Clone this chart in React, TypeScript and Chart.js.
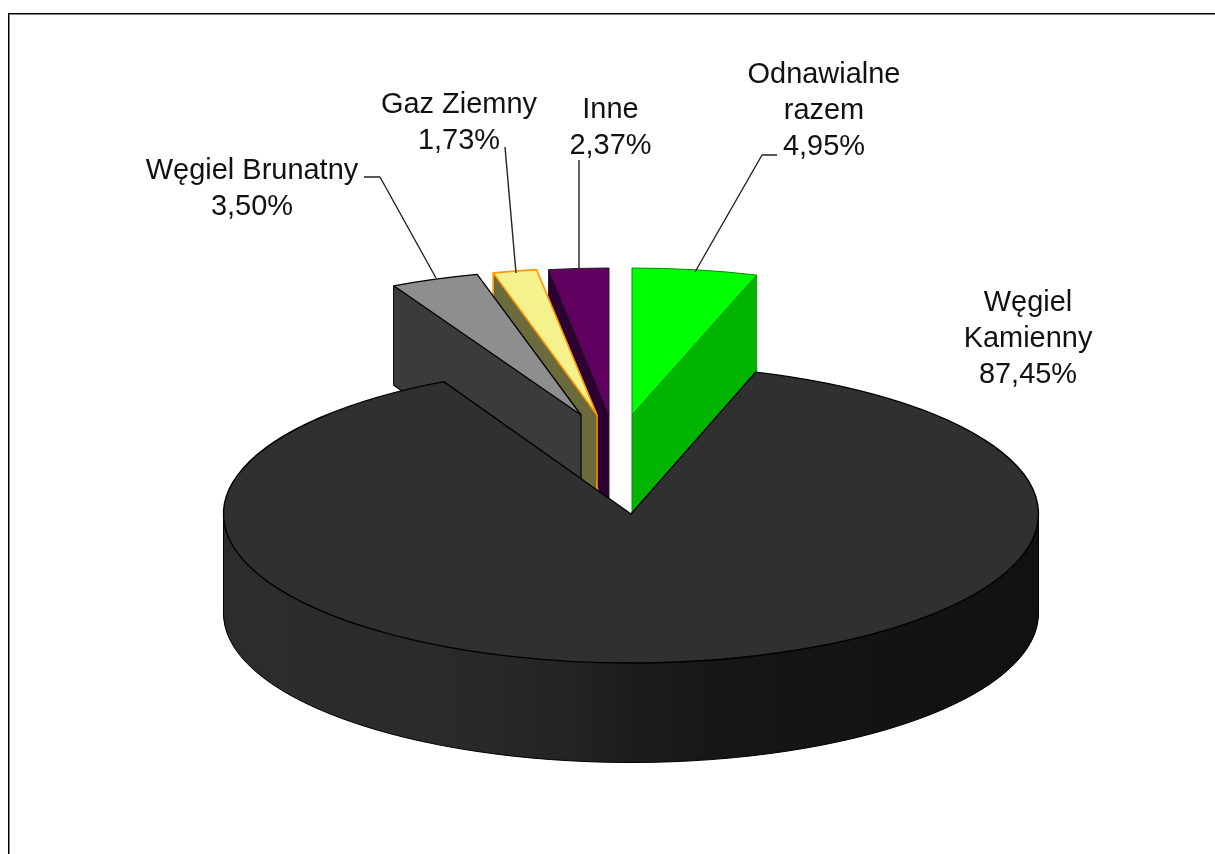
import React, { useEffect, useRef } from "react";
import { Chart, registerables } from "chart.js";

Chart.register(...registerables);

// Data
const categories = ["Odnawialne\nrazem", "Węgiel\nKamienny", "Węgiel Brunatny", "Gaz Ziemny", "Inne"];
const shares = [4.95, 87.45, 3.5, 1.73, 2.37];

// Styles
const topColors = ["#00ff00", "#303030", "#8e8e8e", "#f5f28e", "#600060"];
const wallColors = ["#00b400", "#1c1c1c", "#3c3c3c", "#6b6b3e", "#2e0033"];
const lineColors = ["#008f00", "#000000", "#000000", "#ff9900", "#2a1a2a"];
const lineWidths = [1, 1.4, 1.3, 1.6, 1];

// Layout
const CENTER = { x: 631, y: 513 };
const RADIUS_X = 407.5;
const sliceRadiusY = [147, 149, 145.5, 147, 147];
const DEPTH = 99.5;
const sliceShiftX = [1, 0, -50, -34, -22];
const sliceShiftY = [-98, 1, -98, -98, -98];
const drawOrder = [0, 4, 3, 2, 1];
const labelCenterX = [824, 1028, 252, 459, 610.5];
const labelBaseline = [83, 311, 179, 113, 118];
const LINE_HEIGHT = 36;
const TEXT_SQUEEZE = 0.965;
const leaders: number[][][] = [
  [[777, 155], [762, 155], [695, 272]],
  [],
  [[364, 177], [380, 177], [436, 278]],
  [[505, 147], [516, 273]],
  [[579, 160], [579, 268]],
];

const pie3d = {
  id: "pie3d",
  beforeDatasetDraw(chart: any) {
    const ctx: CanvasRenderingContext2D = chart.ctx;
    const arcs = chart.getDatasetMeta(0).data;

    const flatOptions = (backgroundColor: any, base: any) => ({
      backgroundColor,
      borderColor: "transparent",
      borderWidth: 0,
      borderAlign: "center",
      borderRadius: 0,
      borderJoinStyle: "round",
      circular: true,
      offset: 0,
      spacing: 0,
      selfJoin: false,
      angle: base?.angle,
    });

    for (const i of drawOrder) {
      const arc = arcs[i];
      const cx = CENTER.x + sliceShiftX[i];
      const cy = CENTER.y + sliceShiftY[i];
      const r = arc.outerRadius;
      const ratio = sliceRadiusY[i] / RADIUS_X;
      const big = arc.circumference > Math.PI;

      const wedgePath = (y: number) => {
        ctx.save();
        ctx.translate(cx, y);
        ctx.scale(1, ratio);
        ctx.beginPath();
        ctx.moveTo(0, 0);
        ctx.arc(0, 0, r, arc.startAngle, arc.endAngle);
        ctx.closePath();
        ctx.restore();
      };

      const drawArc = (fill: any, y: number) => {
        const saved = arc.options;
        arc.options = flatOptions(fill, saved);
        ctx.save();
        ctx.translate(cx, y);
        ctx.scale(1, ratio);
        ctx.translate(-arc.x, -arc.y);
        arc.draw(ctx);
        ctx.restore();
        arc.options = saved;
      };

      let wallFill: any = wallColors[i];
      if (big) {
        const g = ctx.createLinearGradient(arc.x - r, 0, arc.x + r, 0);
        g.addColorStop(0, "#2c2c2c");
        g.addColorStop(0.25, "#2b2b2b");
        g.addColorStop(0.42, "#242424");
        g.addColorStop(0.5, "#1c1c1c");
        g.addColorStop(0.62, "#161616");
        g.addColorStop(1, "#111111");
        wallFill = g;
      }
      for (let d = DEPTH; d >= 0.5; d -= 0.5) drawArc(wallFill, cy + d);

      ctx.strokeStyle = lineColors[i];
      ctx.lineWidth = big ? 1 : lineWidths[i];
      ctx.lineJoin = "round";

      const verticalAt = (x: number, y: number) => {
        ctx.beginPath();
        ctx.moveTo(x, y);
        ctx.lineTo(x, y + DEPTH);
        ctx.stroke();
      };
      if (big) {
        // Front half of the lower rim and the two side silhouettes.
        ctx.save();
        ctx.translate(cx, cy + DEPTH);
        ctx.scale(1, ratio);
        ctx.beginPath();
        ctx.arc(0, 0, r, 0, Math.PI);
        ctx.restore();
        ctx.stroke();
        verticalAt(cx - r, cy);
        verticalAt(cx + r, cy);
      } else {
        // Only the radial wall that faces the viewer has visible edges.
        const a =
          Math.abs(Math.cos(arc.startAngle)) > Math.abs(Math.cos(arc.endAngle)) ? arc.startAngle : arc.endAngle;
        const rx = cx + Math.cos(a) * r;
        const ry = cy + Math.sin(a) * r * ratio;
        verticalAt(cx, cy);
        verticalAt(rx, ry);
        ctx.beginPath();
        ctx.moveTo(cx, cy + DEPTH);
        ctx.lineTo(rx, ry + DEPTH);
        ctx.stroke();
      }

      drawArc(topColors[i], cy);
      ctx.lineWidth = lineWidths[i];
      wedgePath(cy);
      ctx.stroke();
    }
    return false;
  },
  afterDraw(chart: any) {
    const ctx: CanvasRenderingContext2D = chart.ctx;
    ctx.save();
    // Frame: only the top and left sides fall inside the picture.
    ctx.fillStyle = "#000000";
    ctx.fillRect(8, 13, 1215, 1);
    ctx.fillRect(8, 13, 1, 854);
    ctx.fillStyle = "#808080";
    ctx.fillRect(9, 14, 1215, 1);
    ctx.fillRect(9, 14, 1, 854);

    // Leader lines
    ctx.strokeStyle = "#222222";
    ctx.lineWidth = 1.4;
    leaders.forEach((pts) => {
      if (!pts.length) return;
      ctx.beginPath();
      pts.forEach(([x, y], k) => (k ? ctx.lineTo(x, y) : ctx.moveTo(x, y)));
      ctx.stroke();
    });

    // Labels
    ctx.fillStyle = "#111111";
    ctx.font = '30px "Liberation Sans", Arial, sans-serif';
    ctx.textAlign = "center";
    ctx.textBaseline = "alphabetic";
    categories.forEach((label, i) => {
      const lines = [...label.split("\n"), shares[i].toFixed(2).replace(".", ",") + "%"];
      lines.forEach((line, k) => {
        ctx.save();
        ctx.translate(labelCenterX[i], labelBaseline[i] + k * LINE_HEIGHT);
        ctx.scale(TEXT_SQUEEZE, 1);
        ctx.fillText(line, 0, 0);
        ctx.restore();
      });
    });
    ctx.restore();
  },
};

export default function App() {
  const ref = useRef<HTMLCanvasElement>(null);
  useEffect(() => {
    const chart = new Chart(ref.current as HTMLCanvasElement, {
      type: "pie",
      data: {
        labels: categories,
        datasets: [{ data: shares, backgroundColor: topColors, borderWidth: 0 }],
      },
      options: {
        animation: false,
        responsive: false,
        devicePixelRatio: 1,
        radius: RADIUS_X,
        layout: { padding: 0 },
        plugins: { legend: { display: false }, tooltip: { enabled: false } },
      } as any,
      plugins: [pie3d as any],
    });
    return () => chart.destroy();
  }, []);
  return (
    <div style={{ position: "fixed", left: 0, top: 0, width: 1215, height: 854, background: "#fff" }}>
      <canvas ref={ref} width={1215} height={854} style={{ display: "block" }} />
    </div>
  );
}
